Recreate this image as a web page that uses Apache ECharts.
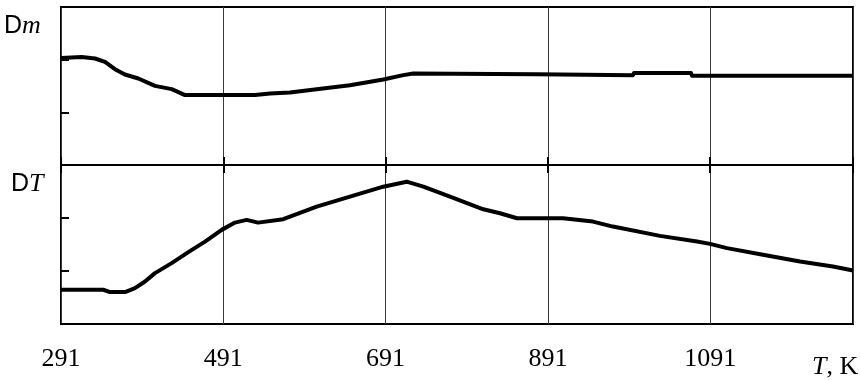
<!DOCTYPE html>
<html>
<head>
<meta charset="utf-8">
<script src="https://cdn.jsdelivr.net/npm/echarts@6/dist/echarts.min.js"></script>
<style>
html,body{margin:0;padding:0;background:#fff;}
#chart{width:860px;height:381px;}
</style>
</head>
<body>
<div id="chart"></div>
<script>
// Temperature tick labels (K)
const xTickLabels = [291, 491, 691, 891, 1091];
const xMin = 291;
const xMax = 1267;

// Δm curve (top panel), arbitrary units
const dmT = [291, 316.5, 332.9, 345.2, 357.5, 369.8, 386.3, 406.8, 427.4, 443.8, 530.1, 548.6, 573.2, 606.1, 647.1, 688.2, 712.8, 725.1, 876.4, 877.6, 995.9, 997.1, 1067.4, 1068.6, 1267];
const dmValues = [2.033, 2.052, 2.022, 1.958, 1.819, 1.719, 1.643, 1.503, 1.440, 1.327, 1.327, 1.359, 1.378, 1.440, 1.516, 1.624, 1.706, 1.738, 1.724, 1.705, 1.705, 1.745, 1.745, 1.695, 1.695];

// ΔT curve (bottom panel), arbitrary units
const dtT = [291, 343.1, 351.4, 369.9, 382.2, 394.5, 406.8, 427.4, 447.9, 468.5, 489.0, 505.4, 519.8, 533.8, 564.9, 606.1, 647.1, 688.2, 717.0, 737.5, 770.4, 811.4, 832.0, 852.9, 909.6, 946.6, 971.2, 1029.1, 1074.8, 1090.8, 1111.7, 1156.1, 1201.7, 1242.3, 1267];
const dtValues = [0.646, 0.646, 0.603, 0.603, 0.678, 0.802, 0.960, 1.149, 1.356, 1.555, 1.776, 1.913, 1.964, 1.913, 1.977, 2.214, 2.403, 2.591, 2.685, 2.591, 2.403, 2.165, 2.090, 1.996, 1.996, 1.932, 1.838, 1.663, 1.555, 1.512, 1.431, 1.305, 1.179, 1.085, 1.009];

const chart = echarts.init(document.getElementById('chart'), null, {renderer: 'canvas'});

const pair = (xs, ys) => xs.map((x, i) => [x, ys[i]]);
const fmtX = v => xTickLabels.indexOf(Math.round(v)) >= 0 ? String(Math.round(v)) : '';

const yAxisBase = (gridIndex) => ({
  type: 'value', gridIndex: gridIndex, min: 0, max: 3, interval: 1,
  axisLine: {show: false},
  axisTick: {show: true, inside: true, length: 8, lineStyle: {color: '#000', width: 2}},
  axisLabel: {show: false},
  splitLine: {show: false}
});

const option = {
  backgroundColor: '#fff',
  animation: false,
  grid: [
    {left: 61, top: 7, width: 792, height: 158, show: true, borderColor: '#000', borderWidth: 2, backgroundColor: 'transparent', containLabel: false},
    {left: 61, top: 165, width: 792, height: 159, show: true, borderColor: '#000', borderWidth: 2, backgroundColor: 'transparent', containLabel: false}
  ],
  xAxis: [
    {
      type: 'value', gridIndex: 0, position: 'bottom', min: xMin, max: xMax, interval: 200,
      axisLine: {show: false},
      axisTick: {show: true, inside: false, length: 8, lineStyle: {color: '#000', width: 2}},
      axisLabel: {show: false},
      splitLine: {show: true, lineStyle: {color: '#3a3a3a', width: 1}}
    },
    {
      type: 'value', gridIndex: 1, position: 'bottom', min: xMin, max: xMax, interval: 200,
      axisLine: {show: false},
      axisTick: {show: false},
      axisLabel: {show: true, formatter: fmtX, color: '#000', fontFamily: 'Liberation Serif', fontSize: 26, margin: 22},
      splitLine: {show: true, lineStyle: {color: '#3a3a3a', width: 1}}
    },
    {
      type: 'value', gridIndex: 1, position: 'top', min: xMin, max: xMax, interval: 200,
      axisLine: {show: false},
      axisTick: {show: true, inside: false, length: 8, lineStyle: {color: '#000', width: 2}},
      axisLabel: {show: false},
      splitLine: {show: false}
    }
  ],
  yAxis: [yAxisBase(0), yAxisBase(1)],
  series: [
    {
      type: 'line', xAxisIndex: 0, yAxisIndex: 0, data: pair(dmT, dmValues),
      showSymbol: false, symbol: 'none', smooth: false,
      lineStyle: {color: '#000', width: 4, join: 'round', cap: 'butt'}, z: 5
    },
    {
      type: 'line', xAxisIndex: 1, yAxisIndex: 1, data: pair(dtT, dtValues),
      showSymbol: false, symbol: 'none', smooth: false,
      lineStyle: {color: '#000', width: 4, join: 'round', cap: 'butt'}, z: 5
    }
  ],
  graphic: [
    {
      type: 'text', left: 4, top: 13,
      style: {
        text: '{s|D}{i|m}',
        rich: {
          s: {fontFamily: 'Liberation Sans', fontSize: 25, fill: '#000'},
          i: {fontFamily: 'Liberation Serif', fontStyle: 'italic', fontSize: 26, fill: '#000'}
        }
      }
    },
    {
      type: 'text', left: 11, top: 171,
      style: {
        text: '{s|D}{i|T}',
        rich: {
          s: {fontFamily: 'Liberation Sans', fontSize: 25, fill: '#000'},
          i: {fontFamily: 'Liberation Serif', fontStyle: 'italic', fontSize: 26, fill: '#000'}
        }
      }
    },
    {
      type: 'text', left: 812, top: 354,
      style: {
        text: '{i|T}{s|, K}',
        rich: {
          i: {fontFamily: 'Liberation Serif', fontStyle: 'italic', fontSize: 26, fill: '#000'},
          s: {fontFamily: 'Liberation Serif', fontSize: 26, fill: '#000'}
        }
      }
    }
  ]
};
chart.setOption(option);
</script>
</body>
</html>
